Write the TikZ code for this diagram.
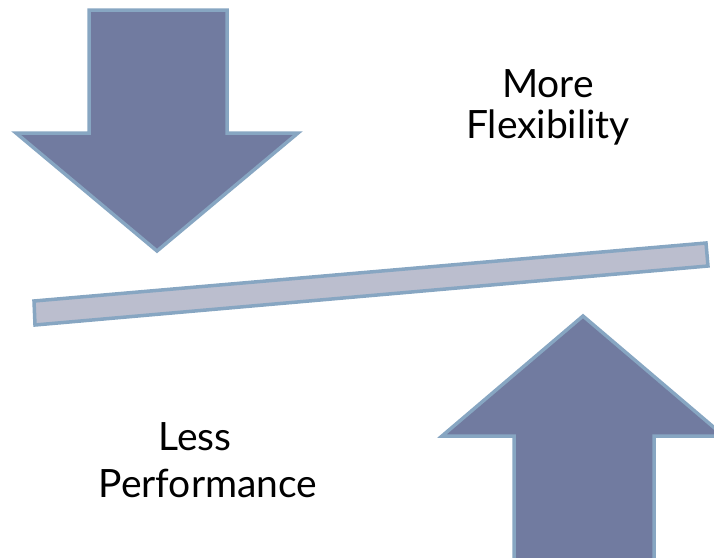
\documentclass[tikz,border=0pt]{standalone}
\usepackage{fontspec}
\setmainfont{Lato}
\definecolor{arrowfill}{HTML}{717BA0}
\definecolor{edgeblue}{HTML}{87A6C2}
\definecolor{barfill}{HTML}{BBBECE}
\begin{document}
\begin{tikzpicture}[x=1pt,y=-1pt,
  blockarrow/.style={fill=arrowfill,draw=edgeblue,line width=3.5pt,line join=miter},
  beam/.style={fill=barfill,draw=edgeblue,line width=3.5pt,line join=miter},
  label/.style={font=\fontsize{39}{46}\selectfont,text=black,inner sep=0pt,anchor=base}]
\useasboundingbox (0,0) rectangle (714,557);
\clip (0,0) rectangle (714,557);
% downward push, upper left
\draw[blockarrow] (89,10) -- (227,10) -- (227,133) -- (298,133) -- (157,251)
  -- (16,133) -- (89,133) -- cycle;
% tilted beam
\draw[beam] (34,301) -- (706,243) -- (708,266) -- (35,325) -- cycle;
% upward push, lower right
\draw[blockarrow] (583,316) -- (724,436) -- (654,436) -- (654,590)
  -- (514,590) -- (514,436) -- (442,436) -- cycle;
% captions
\node[label] (more) at (548,97) {More};
\node[label] (flex) at (548,138) {Flexibility};
\node[label] (less) at (195,450) {Less};
\node[label] (perf) at (208,497) {Performance};
\end{tikzpicture}
\end{document}
